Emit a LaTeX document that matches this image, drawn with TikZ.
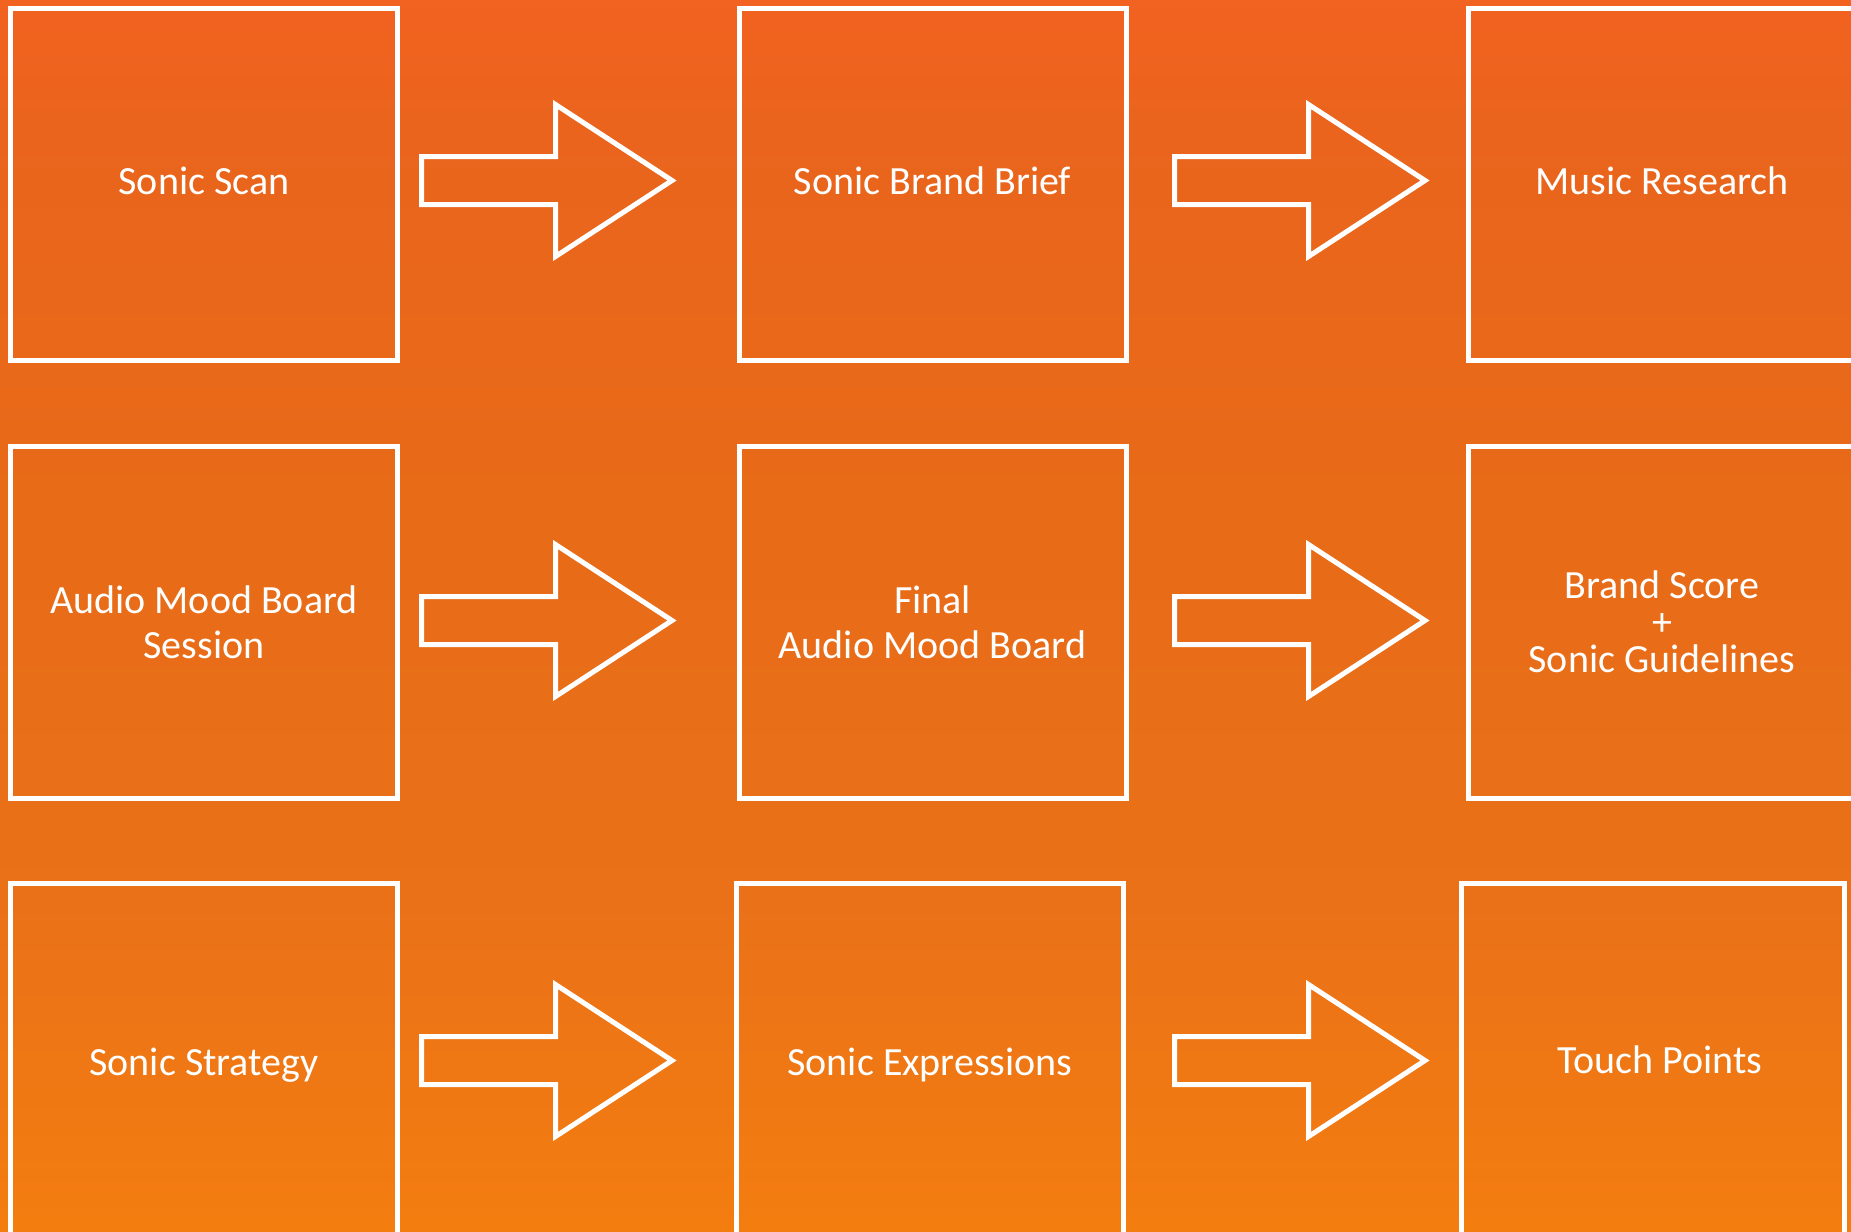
\documentclass[tikz,border=0pt]{standalone}
\usepackage{fontspec}
\setmainfont{Carlito}
\definecolor{bgA}{HTML}{F26220}
\definecolor{bgB}{HTML}{EA641D}
\definecolor{bgC}{HTML}{E86B18}
\definecolor{bgD}{HTML}{EA7118}
\definecolor{bgE}{HTML}{F47D10}
\tikzset{
  stagebox/.style={draw=white, line width=5pt, minimum width=387pt, minimum height=352pt,
    inner sep=0pt, text=white, align=center, font=\fontsize{40}{45}\selectfont},
  oneline/.style={text height=30pt, text depth=10pt},
  lowline/.style={text height=36pt, text depth=5pt},
  stagetext/.style={inner sep=0pt, text=white, font=\fontsize{40}{45}\selectfont, text height=26pt, text depth=0pt},
  blockarr/.style={draw=white, line width=5pt, line join=miter}
}
\newcommand{\blockarrow}[1]{%
  \draw[blockarr] (#1) -- ++(0,-24) -- ++(134,0) -- ++(0,-52) -- ++(116.5,76) -- ++(-116.5,76) -- ++(0,-52) -- ++(-134,0) -- cycle;}
\begin{document}
\begin{tikzpicture}[x=1pt,y=-1pt]
\useasboundingbox (0,0) rectangle (1851,1231);
\begin{scope}[x=1pt,y=1pt]
\shade[top color=bgA, bottom color=bgB] (0,0) rectangle (1851,-130);
\shade[top color=bgB, bottom color=bgC] (0,-129.5) rectangle (1851,-500);
\shade[top color=bgC, bottom color=bgD] (0,-499.5) rectangle (1851,-900);
\shade[top color=bgD, bottom color=bgE] (0,-899.5) rectangle (1851,-1231);
\end{scope}
% row 1
\node[stagebox, oneline] (scan)   at (204,184.5)  {Sonic Scan};
\node[stagebox, oneline] (brief)  at (932.5,184.5) {Sonic Brand Brief};
\node[stagebox, oneline] (music)  at (1662,184.5) {Music Research};
% row 2
\node[stagebox] (amb)    at (204,622) {Audio Mood Board\\Session};
\node[stagebox] (famb)   at (932.5,622) {Final\\Audio Mood Board};
\node[stagebox, font=\fontsize{40}{37}\selectfont] (score) at (1662,622) {Brand Score\\+\\Sonic Guidelines};
% row 3
\node[stagebox, lowline] (strat)  at (204,1059.5) {Sonic Strategy};
\node[stagebox, lowline] (expr)   at (930,1059.5) {Sonic Expressions};
\node[stagebox, minimum width=383pt] (touch) at (1653,1059.5) {};
\node[stagetext] (touchtxt) at (1660,1060) {Touch Points};
% arrows
\coordinate (a11) at (421.5,180.5);
\coordinate (a12) at (1174.5,180.5);
\coordinate (a21) at (421.5,620.5);
\coordinate (a22) at (1174.5,620.5);
\coordinate (a31) at (421.5,1060.5);
\coordinate (a32) at (1174.5,1060.5);
\blockarrow{a11}
\blockarrow{a12}
\blockarrow{a21}
\blockarrow{a22}
\blockarrow{a31}
\blockarrow{a32}
\end{tikzpicture}
\end{document}
